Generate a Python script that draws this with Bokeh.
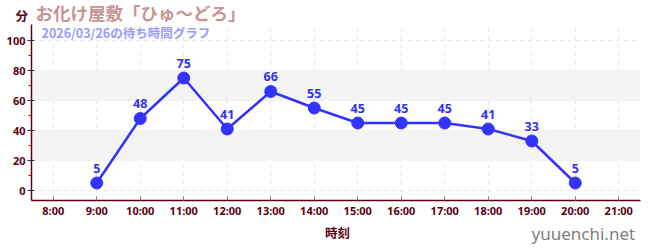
from bokeh.plotting import figure
from bokeh.layouts import column
from bokeh.models import (ColumnDataSource, FixedTicker, Label, BoxAnnotation, Range1d, LabelSet)
from bokeh.core.properties import value
from bokeh.embed import file_html
from bokeh.resources import INLINE

hours = [9, 10, 11, 12, 13, 14, 15, 16, 17, 18, 19, 20]
waits = [5, 48, 75, 41, 66, 55, 45, 45, 45, 41, 33, 5]
tick_hours = list(range(8, 22))
tick_labels = {h: f"{h}:00" for h in tick_hours}
y_ticks = [0, 20, 40, 60, 80, 100]
y_minor = [10, 30, 50, 70, 90]
title_text = "お化け屋敷「ひゅ〜どろ」"
subtitle_text = "2026/03/26の待ち時間グラフ"
unit_text = "分"
xlabel_text = "時刻"
site_text = "yuuenchi.net"

CJK = "Noto Sans CJK JP"
LAT = "Noto Sans"
AXC = "#5a0010"

W = 650
HEAD_H = 24          # header strip (title row)
FOOT_H = 30          # footer strip (axis title + site)
MAIN_H = 250 - HEAD_H - FOOT_H
FL, FR = 31, 640     # frame left / right in canvas px
FB_LOCAL = MAIN_H - 20   # frame bottom inside main figure


def strip(h):
    f = figure(width=W, height=h, output_backend="svg", toolbar_location=None,
               x_range=Range1d(0, 1), y_range=Range1d(0, 1),
               x_axis_type=None, y_axis_type=None,
               min_border_left=0, min_border_right=0, min_border_top=0, min_border_bottom=0)
    f.frame_align = False
    f.outline_line_color = None
    f.xgrid.visible = False
    f.ygrid.visible = False
    return f


def put(f, h, cx, cy, text, **kw):
    # place text at canvas coords (top-left origin) of a strip whose frame fills it
    f.add_layout(Label(x=cx, y=h - cy, x_units="screen", y_units="screen",
                       text=text, text_baseline="middle", **kw))


# ---- header
head = strip(HEAD_H)
put(head, HEAD_H, 15, 15, unit_text, text_color=AXC, text_font=CJK,
    text_font_style="bold", text_font_size="12.5px")
put(head, HEAD_H, 35, 12, title_text, text_color="#c89393", text_font=CJK,
    text_font_style="bold", text_font_size="17.5px")

# ---- main plot
# frame spans canvas y HEAD_H..200 ; value 0 at canvas 190, 100 at canvas 40 (1.5 px / unit)
y_top = 100 + (40 - HEAD_H) / 1.5
y_bot = -(200 - 190) / 1.5
p = figure(width=W, height=MAIN_H, output_backend="svg", toolbar_location=None,
           x_range=Range1d(7.5, 21.5), y_range=Range1d(y_bot, y_top),
           min_border_left=FL, min_border_right=W - FR, min_border_top=0,
           min_border_bottom=MAIN_H - FB_LOCAL)
p.outline_line_color = None

for lo, hi in [(20, 40), (60, 80)]:
    p.add_layout(BoxAnnotation(bottom=lo, top=hi, fill_color="#f4f4f4", fill_alpha=1,
                               line_color=None, level="underlay"))

p.xgrid.ticker = FixedTicker(ticks=tick_hours)
p.ygrid.ticker = FixedTicker(ticks=y_ticks)
for g in (p.xgrid, p.ygrid):
    g.grid_line_color = "#e4e4e4"
    g.grid_line_dash = "4 4"
    g.grid_line_width = 1

p.xaxis.ticker = FixedTicker(ticks=tick_hours)
p.xaxis.major_label_overrides = tick_labels
p.yaxis.ticker = FixedTicker(ticks=y_ticks, minor_ticks=y_minor)

for ax in (p.xaxis, p.yaxis):
    ax.axis_line_color = AXC
    ax.axis_line_width = 1.5
    ax.major_label_text_color = AXC
    ax.major_label_text_font = LAT
    ax.major_label_text_font_style = "bold"
    ax.major_label_text_font_size = "11px"

p.xaxis.major_tick_line_color = "#777777"
p.xaxis.major_tick_in = 4
p.xaxis.major_tick_out = 0
p.xaxis.minor_tick_line_color = None
p.xaxis.major_label_standoff = 2
p.yaxis.major_tick_line_color = "#333333"
p.yaxis.major_tick_in = 3
p.yaxis.major_tick_out = 4
p.yaxis.minor_tick_line_color = "#dd0000"
p.yaxis.minor_tick_in = 0
p.yaxis.minor_tick_out = 3
p.yaxis.major_label_standoff = 2

src = ColumnDataSource(dict(x=hours, y=waits, t=[str(v) for v in waits]))
p.line("x", "y", source=src, line_color="#3333ff", line_width=2.5)
p.scatter("x", "y", source=src, size=12, fill_color="#3333ff", line_color="#3333ff")
p.add_layout(LabelSet(x="x", y="y", text="t", source=src, y_offset=10.5, text_align="center",
                      text_baseline="alphabetic", text_color="#3333ee",
                      text_font=value(LAT), text_font_style="bold",
                      text_font_size="12.5px"))

# subtitle lives inside the frame (canvas y ~31.5)
p.add_layout(Label(x=41 - FL, y=200 - 31.5, x_units="screen", y_units="screen",
                   text=subtitle_text, text_baseline="middle", text_color="#9999ff",
                   text_font=CJK, text_font_style="bold", text_font_size="12.5px"))

# ---- footer
foot = strip(FOOT_H)
base = 250 - FOOT_H
put(foot, FOOT_H, 337, 232 - base, xlabel_text, text_align="center", text_color=AXC,
    text_font=CJK, text_font_style="bold", text_font_size="12.5px")
put(foot, FOOT_H, 531, 233 - base, site_text, text_color="#808080", text_font=LAT,
    text_font_size="17px")

layout = column(head, p, foot, spacing=0)
open("out.html", "w").write(file_html(layout, INLINE))
